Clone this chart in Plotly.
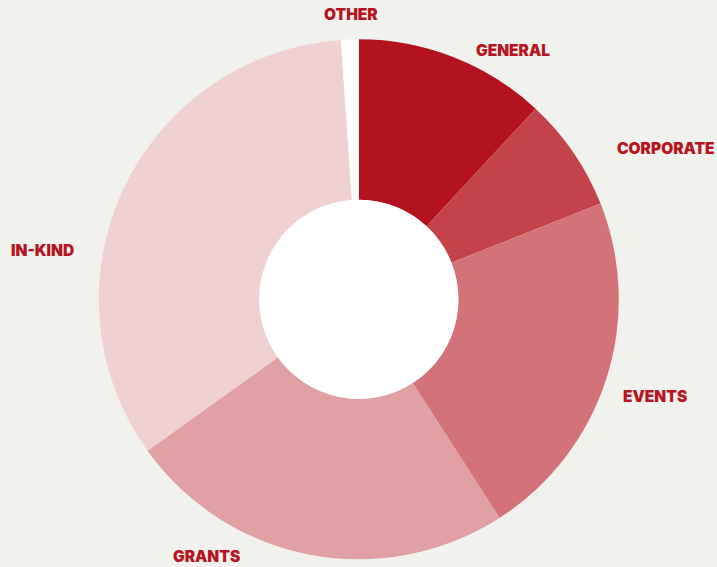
import plotly.graph_objects as go

categories = ["GENERAL", "CORPORATE", "EVENTS", "GRANTS", "IN-KIND", "OTHER"]
values = [11.9, 7.1, 21.9, 24.2, 33.8, 1.1]
colors = ["#b5121f", "#c4424a", "#d37278", "#e1a0a4", "#f0d1d2", "#ffffff"]

# label anchor positions (pixels from top-left) for the outside category labels
label_x = [513, 666, 654.5, 207, 42.5, 350.5]
label_y = [50, 148, 396, 556.5, 250, 14]

W, H = 717, 567
BG = "#f1f1ed"
TXT = "#b8141f"
CX, CY, R, HOLE = 358.8, 299.3, 260.0, 0.383

fig = go.Figure(go.Pie(
    labels=categories,
    values=values,
    sort=False,
    direction="clockwise",
    rotation=0,
    hole=HOLE,
    marker=dict(colors=colors, line=dict(width=0)),
    textinfo="none",
    hoverinfo="label+percent",
    domain=dict(x=[(CX - R) / W, (CX + R) / W], y=[(H - CY - R) / H, (H - CY + R) / H]),
    showlegend=False,
))

# white fill of the donut hole
r_in = R * HOLE
fig.add_trace(go.Pie(
    values=[1],
    marker=dict(colors=["#ffffff"], line=dict(width=0)),
    textinfo="none",
    hoverinfo="skip",
    sort=False,
    domain=dict(x=[(CX - r_in) / W, (CX + r_in) / W], y=[(H - CY - r_in) / H, (H - CY + r_in) / H]),
    showlegend=False,
))

for name, lx, ly in zip(categories, label_x, label_y):
    fig.add_annotation(
        text=name, x=lx / W, y=1 - ly / H, xref="paper", yref="paper",
        showarrow=False, xanchor="center", yanchor="middle",
        font=dict(family="Inter", size=15.5, color=TXT, weight=900),
    )

fig.update_layout(
    width=W, height=H,
    margin=dict(l=0, r=0, t=0, b=0),
    paper_bgcolor=BG, plot_bgcolor=BG,
)

fig.write_html(
    "out.html",
    config={"displayModeBar": False},
    post_script="document.body.style.margin='0';document.body.style.background='%s';" % BG,
)
